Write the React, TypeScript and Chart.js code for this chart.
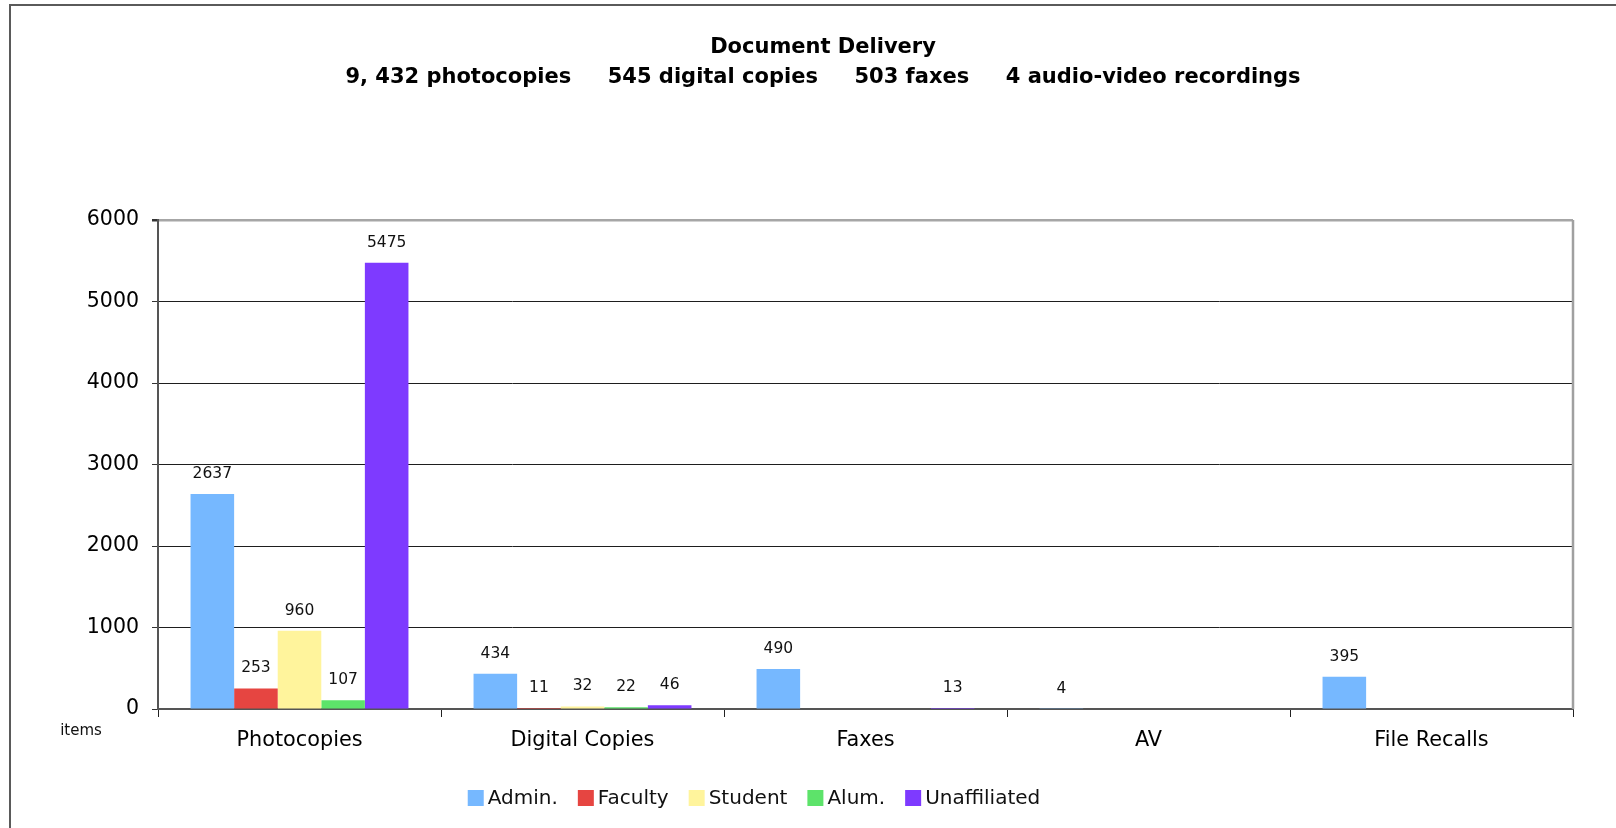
import React, { useEffect, useRef } from 'react';
import { Chart, registerables } from 'chart.js';

Chart.register(...registerables);

// ---- data ----
const categories = ['Photocopies', 'Digital Copies', 'Faxes', 'AV', 'File Recalls'];
const seriesNames = ['Admin.', 'Faculty', 'Student', 'Alum.', 'Unaffiliated'];
const seriesColors = ['#76b8ff', '#e64541', '#fff49c', '#5de36a', '#7e3aff'];
const admin = [2637, 434, 490, 4, 395];
const faculty = [253, 11, 0, 0, 0];
const student = [960, 32, 0, 0, 0];
const alum = [107, 22, 0, 0, 0];
const unaffiliated = [5475, 46, 13, 0, 0];
const yMin = 0;
const yMax = 6000;
const yStep = 1000;
const titleLines = [
  'Document Delivery',
  '9, 432 photocopies     545 digital copies     503 faxes     4 audio-video recordings',
];
const unitLabel = 'items';

const FONT = "'DejaVu Sans', Verdana, sans-serif";

const framePlugin = {
  id: 'outerFrame',
  beforeDraw(chart: any) {
    const ctx = chart.ctx;
    ctx.save();
    ctx.strokeStyle = '#5a5a5a';
    ctx.lineWidth = 2;
    ctx.beginPath();
    ctx.moveTo(10, 828);
    ctx.lineTo(10, 5);
    ctx.lineTo(1616, 5);
    ctx.stroke();
    ctx.restore();
  },
};

const plotBorderPlugin = {
  id: 'plotBorder',
  afterDatasetsDraw(chart: any) {
    const { ctx, chartArea } = chart;
    ctx.save();
    ctx.strokeStyle = '#a0a0a0';
    ctx.lineWidth = 2.5;
    ctx.beginPath();
    ctx.moveTo(chartArea.right, chartArea.top);
    ctx.lineTo(chartArea.right, chartArea.bottom);
    ctx.stroke();
    ctx.restore();
  },
};

const dataLabelPlugin = {
  id: 'dataLabels',
  afterDatasetsDraw(chart: any) {
    const ctx = chart.ctx;
    ctx.save();
    ctx.font = `15.5px ${FONT}`;
    ctx.fillStyle = '#111';
    ctx.textAlign = 'center';
    ctx.textBaseline = 'middle';
    chart.data.datasets.forEach((ds: any, di: number) => {
      const meta = chart.getDatasetMeta(di);
      meta.data.forEach((bar: any, i: number) => {
        const v = ds.data[i];
        if (!v) return;
        ctx.fillText(String(v), bar.x, bar.y - 20);
      });
    });
    ctx.restore();
  },
};

const legendPlugin = {
  id: 'customLegend',
  afterDraw(chart: any) {
    const ctx = chart.ctx;
    const box = 16;
    const gap = 4;
    const spacing = 20;
    const cx = 754;
    const cy = 798;
    ctx.save();
    ctx.font = `20px ${FONT}`;
    const items = chart.data.datasets.map((ds: any) => ({
      label: ds.label as string,
      color: ds.backgroundColor as string,
      w: ctx.measureText(ds.label).width,
    }));
    const total =
      items.reduce((s: number, it: any) => s + box + gap + it.w, 0) + spacing * (items.length - 1);
    let x = cx - total / 2;
    ctx.textBaseline = 'middle';
    ctx.textAlign = 'left';
    items.forEach((it: any) => {
      ctx.fillStyle = it.color;
      ctx.fillRect(x, cy - box / 2, box, box);
      ctx.fillStyle = '#111';
      ctx.fillText(it.label, x + box + gap, cy + 1);
      x += box + gap + it.w + spacing;
    });
    ctx.restore();
  },
};

const unitLabelPlugin = {
  id: 'unitLabel',
  afterDraw(chart: any) {
    const ctx = chart.ctx;
    ctx.save();
    ctx.font = `15px ${FONT}`;
    ctx.fillStyle = '#111';
    ctx.textAlign = 'center';
    ctx.textBaseline = 'middle';
    ctx.fillText(unitLabel, 81, 731);
    ctx.restore();
  },
};

export default function App() {
  const canvasRef = useRef<HTMLCanvasElement | null>(null);

  useEffect(() => {
    if (!canvasRef.current) return;
    const values = [admin, faculty, student, alum, unaffiliated];
    const chart = new Chart(canvasRef.current, {
      type: 'bar',
      data: {
        labels: categories,
        datasets: seriesNames.map((name, i) => ({
          label: name,
          data: values[i],
          backgroundColor: seriesColors[i],
          borderWidth: 0,
          categoryPercentage: 0.77,
          barPercentage: 1.0,
        })),
      },
      options: {
        responsive: false,
        animation: false,
        layout: { padding: { left: 73, right: 43, top: 0, bottom: 69 } },
        plugins: {
          legend: { display: false },
          tooltip: { enabled: false },
          title: {
            display: true,
            text: titleLines,
            color: '#000',
            font: { family: FONT, size: 21, weight: 'bold', lineHeight: 30 / 21 },
            padding: { top: 33, bottom: 127 },
          },
        },
        scales: {
          x: {
            offset: true,
            afterFit(scale: any) {
              scale.height = 50;
            },
            border: { display: true, color: '#555', width: 2 },
            grid: {
              offset: true,
              drawOnChartArea: false,
              drawTicks: true,
              tickLength: 8,
              color: '#222',
              lineWidth: 1,
            },
            ticks: {
              color: '#000',
              padding: 11,
              font: { family: FONT, size: 20.8 },
              maxRotation: 0,
            },
          },
          y: {
            min: yMin,
            max: yMax,
            afterFit(scale: any) {
              scale.width = 85;
            },
            border: { display: true, color: '#555', width: 2 },
            grid: {
              drawTicks: true,
              tickLength: 6,
              color: (c: any) => (c.tick && c.tick.value === yMax ? '#a6a6a6' : '#1e1e1e'),
              lineWidth: (c: any) => (c.tick && c.tick.value === yMax ? 2.5 : 1),
              tickColor: '#333',
            },
            ticks: {
              stepSize: yStep,
              color: '#000',
              padding: 13,
              font: { family: FONT, size: 20.5 },
              callback: (v: any) => String(v),
            },
          },
        },
      },
      plugins: [framePlugin, plotBorderPlugin, dataLabelPlugin, legendPlugin, unitLabelPlugin],
    } as any);
    return () => chart.destroy();
  }, []);

  return (
    <div style={{ position: 'fixed', left: 0, top: 0, width: 1616, height: 828, background: '#fff' }}>
      <canvas ref={canvasRef} width={1616} height={828} style={{ display: 'block' }} />
    </div>
  );
}
